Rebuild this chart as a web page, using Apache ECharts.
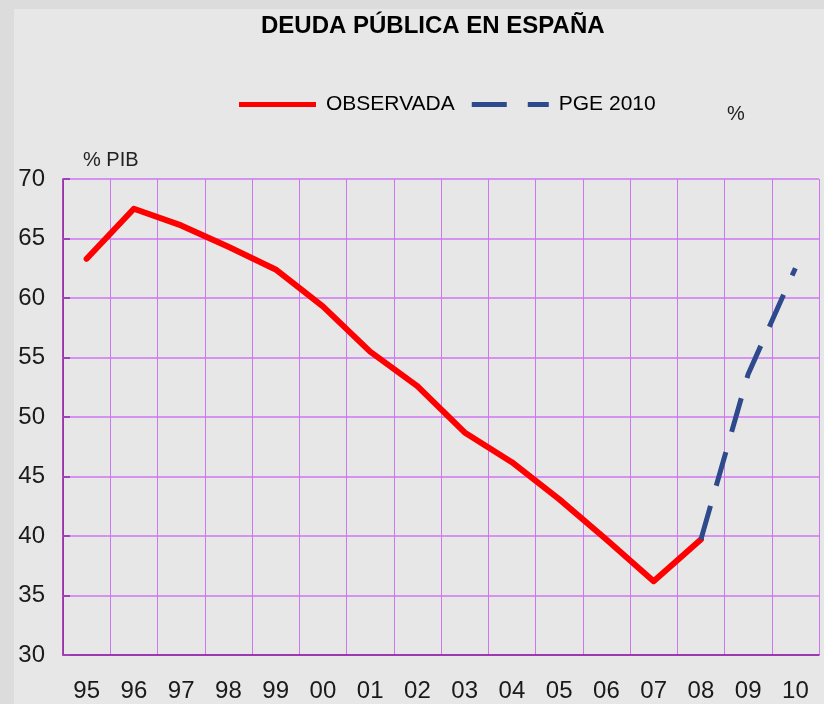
<!DOCTYPE html>
<html>
<head>
<meta charset="utf-8">
<script src="https://cdn.jsdelivr.net/npm/echarts@6/dist/echarts.min.js"></script>
<style>
  html, body { margin: 0; padding: 0; background: #dcdcdc; }
  #chart { position: absolute; left: 14px; top: 9px; width: 810px; height: 695px; background: #e7e7e7; }
</style>
</head>
<body>
<div id="chart"></div>
<script>
// años (eje x)
const years = ["95", "96", "97", "98", "99", "00", "01", "02", "03", "04", "05", "06", "07", "08", "09", "10"];
// deuda observada, % PIB
const observada = [63.3, 67.5, 66.1, 64.3, 62.4, 59.3, 55.5, 52.6, 48.7, 46.2, 43.1, 39.7, 36.2, 39.7, null, null];
// previsión PGE 2010
const pge2010 = [null, null, null, null, null, null, null, null, null, null, null, null, null, 39.7, 53.6, 62.5];

const chart = echarts.init(document.getElementById("chart"));
const font = "Liberation Sans, Arial, sans-serif";
const option = {
  animation: false,
  title: {
    text: "DEUDA PÚBLICA EN ESPAÑA",
    left: 242,
    top: 0,
    textStyle: { fontFamily: font, fontSize: 24, fontWeight: "bold", color: "#000" }
  },
  legend: {
    left: 220,
    top: 80,
    itemWidth: 77,
    itemHeight: 5,
    itemGap: 17,
    textStyle: { fontFamily: font, fontSize: 21, color: "#000", padding: [0, 0, 0, 5] },
    data: [
      { name: "OBSERVADA", icon: "rect", itemStyle: { color: "#ff0000" } },
      { name: "PGE 2010", icon: "path://M0,0h35v5h-35z M56,0h21v5h-21z", itemStyle: { color: "#2e4a8c" } }
    ]
  },
  graphic: [
    { type: "text", left: 713, top: 95, style: { text: "%", font: "20px " + font, fill: "#222" } },
    { type: "text", left: 69, top: 141, style: { text: "% PIB", font: "20px " + font, fill: "#222" } }
  ],
  grid: { left: 49, right: 5, top: 170, bottom: 49 },
  xAxis: {
    type: "category",
    data: years,
    boundaryGap: true,
    axisLine: { lineStyle: { color: "#8b1a9b", width: 1.5 } },
    axisTick: { show: false },
    splitLine: { show: true, interval: 0, lineStyle: { color: "#cc77f2", width: 1 } },
    axisLabel: { fontFamily: font, fontSize: 24, color: "#1a1a1a", margin: 24, interval: 0 }
  },
  yAxis: {
    type: "value",
    min: 30,
    max: 70,
    interval: 5,
    axisLine: { show: true, lineStyle: { color: "#8b1a9b", width: 1.5 } },
    axisTick: { show: true, inside: true, length: 7, lineStyle: { color: "#a040c0", width: 2 } },
    splitLine: { lineStyle: { color: "#cc77f2", width: 1.5 } },
    axisLabel: { fontFamily: font, fontSize: 24, color: "#1a1a1a", margin: 18 }
  },
  series: [
    {
      name: "OBSERVADA",
      type: "line",
      data: observada,
      symbol: "none",
      lineStyle: { color: "#ff0000", width: 6, cap: "round", join: "round" },
      itemStyle: { color: "#ff0000" }
    },
    {
      name: "PGE 2010",
      type: "line",
      data: pge2010,
      symbol: "none",
      lineStyle: { color: "#2e4a8c", width: 5, type: [35, 21] },
      itemStyle: { color: "#2e4a8c" }
    }
  ]
};
chart.setOption(option);
</script>
</body>
</html>
